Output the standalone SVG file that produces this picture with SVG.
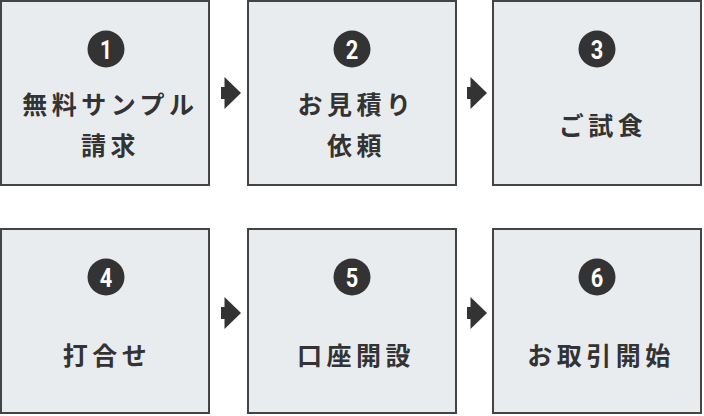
<svg xmlns="http://www.w3.org/2000/svg" width="704" height="416" viewBox="0 0 704 416">
<defs>
<style>
.box{fill:#e9ecef;stroke:#444;stroke-width:2}
.num{fill:#333}
.digit{fill:#fff;font-family:Roboto,"DejaVu Sans",sans-serif;font-weight:700;font-size:26px;text-anchor:middle}
.lbl{fill:#333;font-family:"Noto Sans CJK JP","Noto Sans",sans-serif;font-weight:700;font-size:25px;letter-spacing:4.5px;text-anchor:middle}
.arr{fill:#333}
</style>
<path id="arrow" d="M0,-6 H3.5 V-16 L20,0 L3.5,16 V6 H0 Z"/>
</defs>
<g id="step1">
<rect class="box" x="1" y="1" width="208" height="184"/>
<circle class="num" cx="106" cy="49" r="18.5"/>
<text class="digit" x="106" y="58.5" textLength="12" lengthAdjust="spacingAndGlyphs">1</text>
<text class="lbl" x="110.5" y="113.5">無料サンプル</text>
<text class="lbl" x="110.5" y="155">請求</text>
</g>
<g id="step2">
<rect class="box" x="248" y="1" width="208" height="184"/>
<circle class="num" cx="352" cy="49" r="18.5"/>
<text class="digit" x="352" y="58.5" textLength="12.5" lengthAdjust="spacingAndGlyphs">2</text>
<text class="lbl" x="356.5" y="113.5">お見積り</text>
<text class="lbl" x="356.5" y="155">依頼</text>
</g>
<g id="step3">
<rect class="box" x="493" y="1" width="208" height="184"/>
<circle class="num" cx="597" cy="49" r="18.5"/>
<text class="digit" x="597" y="58.5" textLength="12.5" lengthAdjust="spacingAndGlyphs">3</text>
<text class="lbl" x="603" y="135">ご試食</text>
</g>
<g id="step4">
<rect class="box" x="1" y="229" width="208" height="184"/>
<circle class="num" cx="106" cy="277" r="18.5"/>
<text class="digit" x="106" y="286.5" textLength="12.5" lengthAdjust="spacingAndGlyphs">4</text>
<text class="lbl" x="107" y="364.5">打合せ</text>
</g>
<g id="step5">
<rect class="box" x="248" y="229" width="208" height="184"/>
<circle class="num" cx="352" cy="277" r="18.5"/>
<text class="digit" x="352" y="286.5" textLength="12.5" lengthAdjust="spacingAndGlyphs">5</text>
<text class="lbl" x="356" y="364.5">口座開設</text>
</g>
<g id="step6">
<rect class="box" x="493" y="229" width="208" height="184"/>
<circle class="num" cx="597" cy="277" r="18.5"/>
<text class="digit" x="597" y="286.5" textLength="12.5" lengthAdjust="spacingAndGlyphs">6</text>
<text class="lbl" x="601" y="364.5">お取引開始</text>
</g>
<g id="connectors">
<use class="arr" href="#arrow" x="221" y="93"/>
<use class="arr" href="#arrow" x="467" y="93"/>
<use class="arr" href="#arrow" x="221" y="313"/>
<use class="arr" href="#arrow" x="467" y="313"/>
</g>
</svg>
